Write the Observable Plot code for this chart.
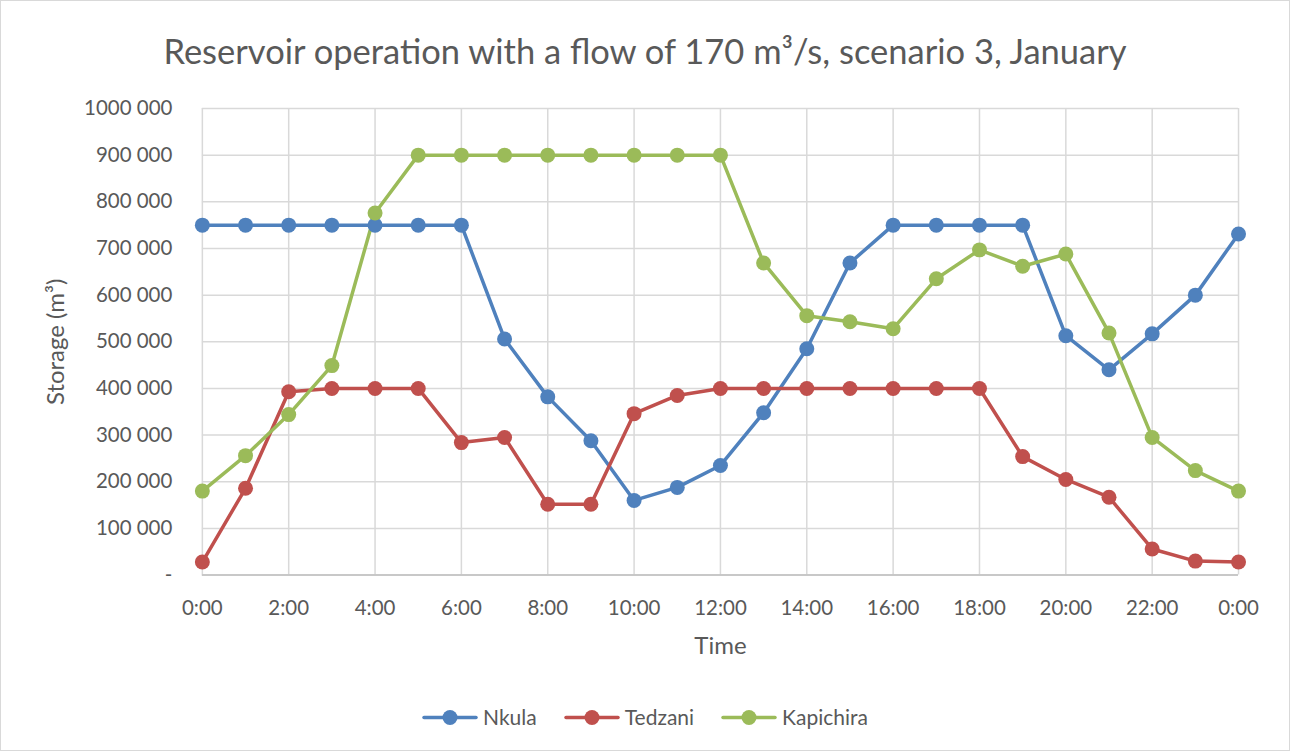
<!DOCTYPE html>
<html>
<head>
<meta charset="utf-8">
<script src="https://cdn.jsdelivr.net/npm/d3@7"></script>
<script src="https://cdn.jsdelivr.net/npm/@observablehq/plot@0.6"></script>
<style>
  html, body { margin: 0; padding: 0; background: #fff; }
  #frame { position: relative; width: 1290px; height: 751px; box-sizing: border-box; border: 1px solid #d9d9d9; font-family: Lato, "Open Sans", sans-serif; color: #595959; overflow: hidden; }
  #title { position: absolute; left: 0; top: 28px; width: 100%; text-align: center; font-size: 34.5px; line-height: 44px; color: #595959; }
  #chart { position: absolute; left: -1px; top: 84px; }
  #chart svg text { fill: #595959; }
  #legend { position: absolute; left: 0; top: 703px; width: 100%; display: flex; justify-content: center; gap: 27px; font-size: 21px; line-height: 26px; }
  .item { display: flex; align-items: center; gap: 5px; }
</style>
</head>
<body>
<div id="frame">
  <div id="title">Reservoir operation with a flow of 170 m³/s, scenario 3, January</div>
  <div id="chart"></div>
  <div id="legend"></div>
</div>
<script>
const hours = [0,1,2,3,4,5,6,7,8,9,10,11,12,13,14,15,16,17,18,19,20,21,22,23,24];
const xTicks = [0,2,4,6,8,10,12,14,16,18,20,22,24];
const xTickLabels = ["0:00","2:00","4:00","6:00","8:00","10:00","12:00","14:00","16:00","18:00","20:00","22:00","0:00"];
const yTicks = [0,100000,200000,300000,400000,500000,600000,700000,800000,900000,1000000];
const yTickLabels = ["-","100 000","200 000","300 000","400 000","500 000","600 000","700 000","800 000","900 000","1000 000"];
const seriesNames = ["Nkula","Tedzani","Kapichira"];
const seriesColors = ["#4f81bd","#c0504d","#9bbb59"];
const nkula = [750000,750000,750000,750000,750000,750000,750000,506000,382000,288000,160000,188000,235000,348000,485000,669000,750000,750000,750000,750000,513000,440000,517000,600000,731000];
const tedzani = [28000,186000,393000,400000,400000,400000,284000,295000,152000,152000,346000,385000,400000,400000,400000,400000,400000,400000,400000,254000,205000,167000,56000,30000,28000];
const kapichira = [180000,256000,344000,449000,776000,900000,900000,900000,900000,900000,900000,900000,900000,669000,556000,543000,528000,635000,697000,662000,688000,519000,295000,224000,180000];

const seriesValues = [nkula, tedzani, kapichira];
const data = [];
seriesNames.forEach((name, i) => {
  hours.forEach((h, j) => data.push({series: name, hour: h, value: seriesValues[i][j]}));
});

const chart = Plot.plot({
  width: 1290,
  height: 586,
  marginLeft: 202,
  marginRight: 51,
  marginTop: 23,
  marginBottom: 96,
  style: { fontFamily: "Lato, 'Open Sans', sans-serif", fontSize: "20.5px", color: "#595959", background: "transparent" },
  x: { domain: [0, 24] },
  y: { domain: [0, 1000000] },
  color: { domain: seriesNames, range: seriesColors },
  marks: [
    Plot.gridY(yTicks, { stroke: "#d9d9d9", strokeOpacity: 1, strokeWidth: 1.5 }),
    Plot.gridX(xTicks, { stroke: "#d9d9d9", strokeOpacity: 1, strokeWidth: 1.5 }),
    Plot.ruleY([0], { stroke: "#bfbfbf", strokeWidth: 1.5 }),
    Plot.axisY(yTicks, { tickSize: 0, tickPadding: 30, fontSize: 20.5,
      tickFormat: d => yTickLabels[yTicks.indexOf(d)],
      label: "Storage (m³)", labelAnchor: "center", labelArrow: "none", labelOffset: 156 }),
    Plot.axisX(xTicks, { tickSize: 0, tickPadding: 25, fontSize: 20.5,
      tickFormat: d => xTickLabels[xTicks.indexOf(d)],
      label: "Time", labelAnchor: "center", labelArrow: "none", labelOffset: 79 }),
    Plot.line(data, { x: "hour", y: "value", z: "series", stroke: "series", strokeWidth: 3.5 }),
    Plot.dot(data, { x: "hour", y: "value", fill: "series", r: 7.5 })
  ]
});
document.getElementById("chart").appendChild(chart);
chart.querySelectorAll('[aria-label="y-axis label"] text, [aria-label="x-axis label"] text').forEach(t => t.style.fontSize = "24px");

const legend = document.getElementById("legend");
seriesNames.forEach((name, i) => {
  const item = document.createElement("div");
  item.className = "item";
  item.innerHTML = `<svg width="56" height="17"><line x1="2" y1="8.5" x2="54" y2="8.5" stroke="${seriesColors[i]}" stroke-width="3.5" stroke-linecap="round"/><circle cx="28" cy="8.5" r="7.5" fill="${seriesColors[i]}"/></svg><span>${name}</span>`;
  legend.appendChild(item);
});
</script>
</body>
</html>
